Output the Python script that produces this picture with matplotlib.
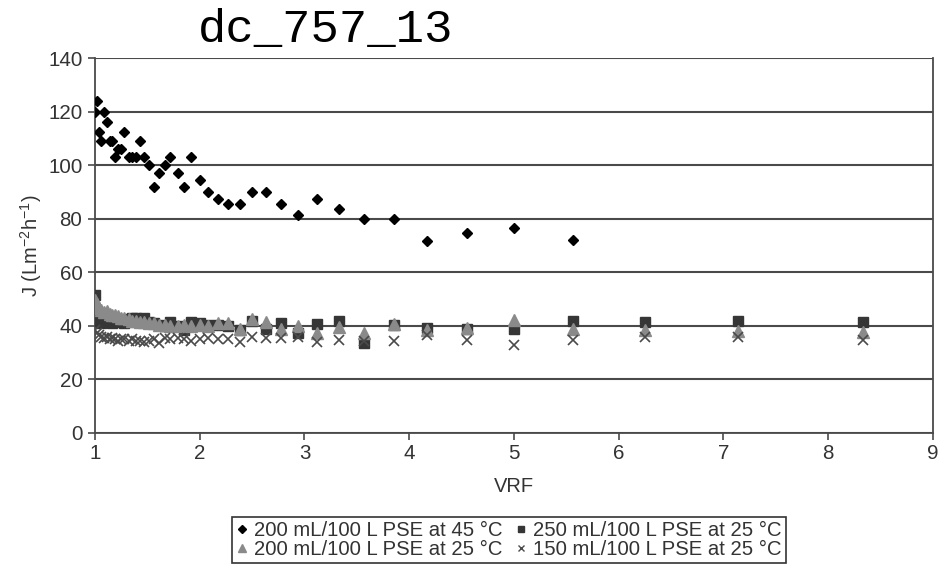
import matplotlib
matplotlib.use("Agg")
import matplotlib.pyplot as plt
from matplotlib.lines import Line2D

plt.rcParams['font.family'] = ['Liberation Sans', 'DejaVu Sans']
plt.rcParams['mathtext.fontset'] = 'custom'
plt.rcParams['mathtext.rm'] = 'Liberation Sans'
plt.rcParams['mathtext.it'] = 'Liberation Sans:italic'

# Volume reduction factor grids
vrf_45 = [1.00, 1.02, 1.04, 1.06, 1.09, 1.11, 1.14, 1.16, 1.19, 1.22, 1.25, 1.28,
          1.32, 1.35, 1.39, 1.43, 1.47, 1.52, 1.56, 1.61, 1.67, 1.72, 1.79, 1.85,
          1.92, 2.00, 2.08, 2.17, 2.27, 2.38, 2.50, 2.63, 2.78, 2.94, 3.12, 3.33,
          3.57, 3.85, 4.17, 4.55, 5.00, 5.56]
vrf_25 = vrf_45 + [6.25, 7.14, 8.33]

# Permeate flux J (L m-2 h-1)
j_200_45 = [120, 124, 112.5, 109, 120, 116, 109, 109, 103, 106, 106, 112.5,
            103, 103, 103, 109, 103, 100, 92, 97, 100, 103, 97, 92,
            103, 94.5, 90, 87.5, 85.5, 85.5, 90, 90, 85.5, 81.5, 87.5, 83.5,
            80, 80, 71.5, 74.5, 76.5, 72]
j_250_25 = [51.5, 42, 42.5, 41, 42, 41.5, 42.5, 41, 42, 41.5, 42, 41,
            42.5, 43, 43, 42.5, 43, 41.5, 41, 40.5, 40, 41.5, 40, 38.5,
            41.5, 41, 40.5, 40.5, 40, 38.5, 41.8, 39, 41.2, 37.5, 40.7, 41.8,
            33.5, 40.3, 39.1, 39, 38.7, 42, 41.5, 41.8, 41.5]
j_200_25 = [49.5, 48, 46.5, 46, 45, 45.5, 44.5, 44, 44, 43.5, 43, 43,
            42.5, 42, 42, 41.5, 41.5, 41, 41, 40.5, 40.5, 40, 40, 40.5,
            40, 40.5, 40, 41, 41, 39, 42.5, 41.5, 39, 40, 37.5, 39.5,
            37.5, 40.8, 38.5, 39.1, 42.3, 38.7, 38.5, 38.2, 37.8]
j_150_25 = [38.5, 37.5, 36.5, 36, 35.5, 36, 35, 35.5, 35, 34.5, 35, 35,
            34.5, 35, 34.5, 34.5, 34, 34.5, 35, 33.5, 35.5, 35, 35.5, 35,
            34.5, 35, 35.5, 35, 35, 34, 36, 35.5, 35.5, 36, 34.1, 34.7,
            34.5, 34.2, 36.5, 34.6, 33, 34.6, 35.9, 35.9, 34.6]

labels = ['200 mL/100 L PSE at 45 °C', '250 mL/100 L PSE at 25 °C',
          '200 mL/100 L PSE at 25 °C', '150 mL/100 L PSE at 25 °C']

fig = plt.figure(figsize=(9.39, 5.69), dpi=100)
ax = fig.add_axes([95 / 939, 1 - 433 / 569, (933 - 95) / 939, (433 - 58) / 569])

ax.plot(vrf_45, j_200_45, linestyle='none', marker='D', ms=5.6, color='black', zorder=5)
ax.plot(vrf_25, j_250_25, linestyle='none', marker='s', ms=7, color='#363636', zorder=4)
ax.plot(vrf_25, j_200_25, linestyle='none', marker='^', ms=8, color='#8a8a8a', zorder=4)
ax.plot(vrf_25, j_150_25, linestyle='none', marker='x', ms=6.5, mew=1.2, color='#4a4a4a', zorder=4)

ax.set_xlim(1, 9)
ax.set_ylim(0, 140)
ax.set_xticks(range(1, 10))
ax.set_yticks(range(0, 141, 20))
ax.yaxis.grid(True, color='#4a4a4a', linewidth=1.5)
ax.set_axisbelow(True)
for side in ['left', 'bottom', 'right', 'top']:
    ax.spines[side].set_color('#4a4a4a')
    ax.spines[side].set_linewidth(1.3)
ax.spines['top'].set_visible(False)
ax.tick_params(axis='both', direction='out', length=5, width=1.2, color='#4a4a4a',
               labelsize=14.8, labelcolor='#333333')
ax.tick_params(axis='x', pad=3)
ax.tick_params(axis='y', pad=4)

ax.set_xlabel('VRF', fontsize=14.5, color='#333333', labelpad=10)
ax.set_ylabel('J (Lm$^{-2}$h$^{-1}$)', fontsize=14.5, color='#333333', labelpad=3)

fig.text(326 / 939, 1 - 30 / 569, 'dc_757_13', family='Liberation Mono',
         fontsize=34, ha='center', va='center', color='black')

handles = [
    Line2D([], [], linestyle='none', marker='D', ms=4, color='black'),
    Line2D([], [], linestyle='none', marker='^', ms=6, color='#8a8a8a'),
    Line2D([], [], linestyle='none', marker='s', ms=5, color='#363636'),
    Line2D([], [], linestyle='none', marker='x', ms=5, mew=1, color='#4a4a4a'),
]
leg_labels = [labels[0], labels[2], labels[1], labels[3]]
leg = fig.legend(handles, leg_labels, loc='upper left',
                 bbox_to_anchor=(232 / 939, 1 - 517 / 569), ncol=2,
                 fontsize=14.6, frameon=True, fancybox=False, framealpha=1,
                 edgecolor='#333333', handlelength=0.6, handletextpad=0.3,
                 columnspacing=0.6, labelspacing=0.0, borderpad=0.2,
                 borderaxespad=0)
leg.get_frame().set_linewidth(1.2)
for t in leg.get_texts():
    t.set_color('#333333')

fig.savefig('out.png', dpi=100)
